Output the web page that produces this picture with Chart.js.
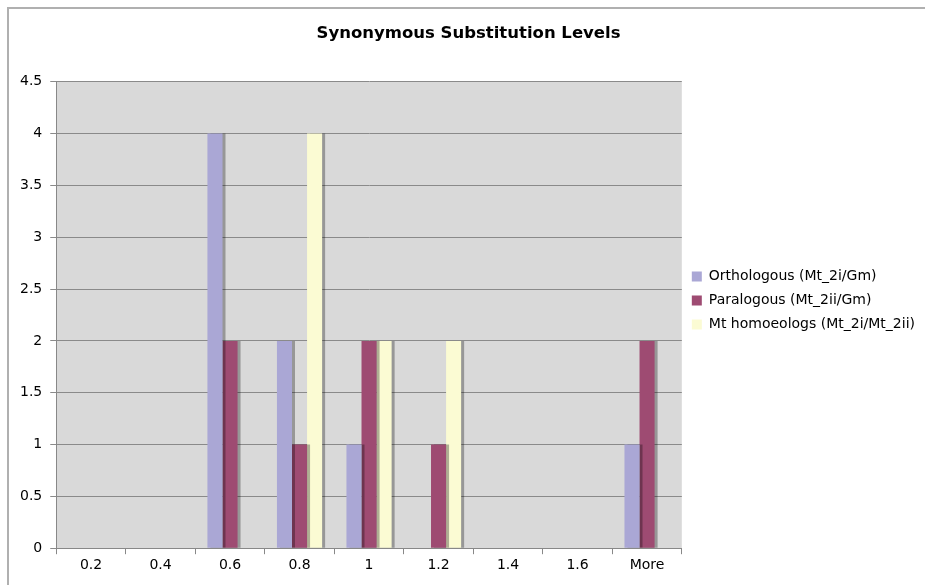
<!DOCTYPE html>
<html>
<head>
<meta charset="utf-8">
<script src="https://cdn.jsdelivr.net/npm/chart.js@4/dist/chart.umd.min.js"></script>
<style>
  html, body { margin: 0; padding: 0; background: #fff; }
  #wrap { width: 925px; height: 585px; }
</style>
</head>
<body>
<div id="wrap"><canvas id="chart" width="925" height="585"></canvas></div>
<script>
var categories = ["0.2", "0.4", "0.6", "0.8", "1", "1.2", "1.4", "1.6", "More"];
var orthologous = [0, 0, 4, 2, 1, 0, 0, 0, 1];
var paralogous = [0, 0, 2, 1, 2, 1, 0, 0, 2];
var homoeologs = [0, 0, 0, 4, 2, 2, 0, 0, 0];

var font = "'DejaVu Sans', Verdana, sans-serif";

// grey plot background, page frame and bar shadows
var decor = {
	id: "decor",
	beforeDraw: function(chart) {
		var c = chart.ctx, a = chart.chartArea;
		c.save();
		c.strokeStyle = "#b0b0b0";
		c.lineWidth = 2;
		c.beginPath();
		c.moveTo(8, chart.height);
		c.lineTo(8, 8);
		c.lineTo(chart.width, 8);
		c.stroke();
		c.fillStyle = "#d9d9d9";
		c.fillRect(a.left, a.top, a.right - a.left, a.bottom - a.top);
		c.restore();
	},
	beforeDatasetsDraw: function(chart) {
		var c = chart.ctx;
		c.save();
		c.shadowColor = "rgba(0,0,0,0.3)";
		c.shadowOffsetX = 3;
		c.shadowOffsetY = 0;
		c.shadowBlur = 0;
	},
	afterDatasetsDraw: function(chart) {
		chart.ctx.restore();
	}
};

new Chart(document.getElementById("chart"), {
	type: "bar",
	data: {
		labels: categories,
		datasets: [
			{ label: "Orthologous (Mt_2i/Gm)", data: orthologous, backgroundColor: "#aaa7d5" },
			{ label: "Paralogous (Mt_2ii/Gm)", data: paralogous, backgroundColor: "#9e4b72" },
			{ label: "Mt homoeologs (Mt_2i/Mt_2ii)", data: homoeologs, backgroundColor: "#fbfbd3" }
		]
	},
	options: {
		responsive: false,
		animation: false,
		layout: { padding: { left: 12, right: 0, top: 24, bottom: 8 } },
		datasets: { bar: { categoryPercentage: 0.65, barPercentage: 1 } },
		plugins: {
			title: {
				display: true,
				text: "Synonymous Substitution Levels",
				color: "#000",
				font: { family: font, size: 16.5, weight: "bold" },
				padding: { top: 0, bottom: 38 }
			},
			legend: {
				position: "right",
				maxWidth: 260,
				labels: {
					color: "#000",
					font: { family: font, size: 14 },
					boxWidth: 10,
					boxHeight: 10,
					padding: 10
				}
			},
			tooltip: { enabled: false }
		},
		scales: {
			x: {
				grid: { drawOnChartArea: false, drawTicks: true, tickLength: 6, color: "#888" },
				border: { color: "#888", width: 1 },
				ticks: { color: "#000", font: { family: font, size: 14 }, padding: 3 }
			},
			y: {
				min: 0,
				max: 4.5,
				ticks: {
					stepSize: 0.5,
					color: "#000",
					font: { family: font, size: 14 },
					padding: 8,
					callback: function(v) { return String(v); }
				},
				grid: { color: "#8a8a8a", lineWidth: 1, tickLength: 6 },
				border: { color: "#888", width: 1 }
			}
		}
	},
	plugins: [decor]
});
</script>
</body>
</html>
